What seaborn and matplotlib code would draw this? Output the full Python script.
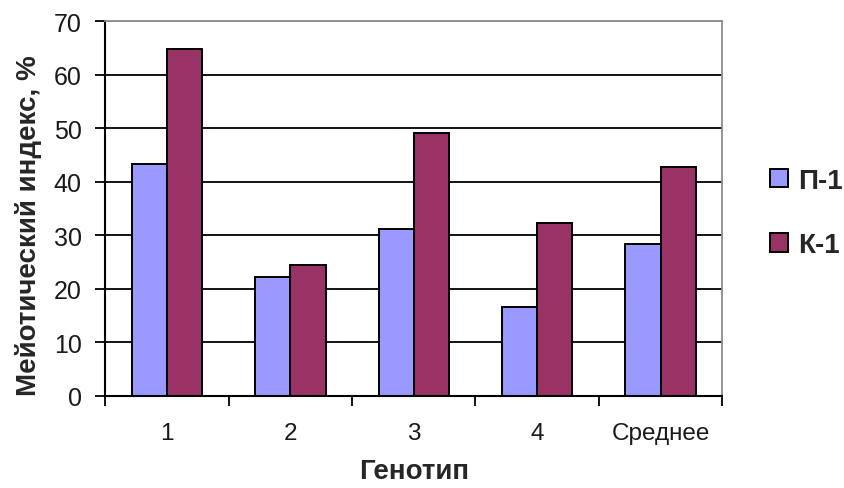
import matplotlib
matplotlib.use("Agg")
import matplotlib.pyplot as plt
import seaborn as sns
import pandas as pd
import numpy as np

categories = ["1", "2", "3", "4", "Среднее"]
series_names = ["П-1", "К-1"]
p1_values = [43.4, 22.1, 31.2, 16.5, 28.3]
k1_values = [64.8, 24.4, 49.1, 32.3, 42.7]
y_ticks = [0, 10, 20, 30, 40, 50, 60, 70]

colors = {"П-1": "#9999FF", "К-1": "#993366"}

df = pd.DataFrame({
    "Генотип": categories * 2,
    "value": p1_values + k1_values,
    "series": [series_names[0]] * len(categories) + [series_names[1]] * len(categories),
})

sns.set_style("white")
plt.rcParams["font.family"] = ["Liberation Sans", "DejaVu Sans"]

fig = plt.figure(figsize=(8.45, 4.89), dpi=100)
ax = fig.add_axes([0.1246, 0.1888, 0.8548 - 0.1246, 0.9544 - 0.1888])

# horizontal gridlines behind the bars
for v in y_ticks[1:-1]:
    ax.axhline(v, color="black", lw=1.3, zorder=0)
ax.axhline(70, color="#8c8c8c", lw=1.3, zorder=0)

sns.barplot(data=df, x="Генотип", y="value", hue="series", order=categories,
            hue_order=series_names, palette=colors, width=2 / 3.5, gap=0,
            edgecolor="black", linewidth=1.4, saturation=1, ax=ax, zorder=2)

ax.set_xlim(-0.5, len(categories) - 0.5)
ax.set_ylim(0, 70)
ax.set_yticks(y_ticks)
ax.set_yticklabels([str(v) for v in y_ticks], fontsize=18, color="#1a1a1a")
ax.tick_params(axis="y", direction="out", length=7, width=1.3, color="black", pad=10, left=True)

# category labels at centres, tick marks at category boundaries
ax.set_xticks(range(len(categories)))
ax.set_xticklabels(categories, fontsize=17.5, color="#1a1a1a")
ax.tick_params(axis="x", which="major", length=0, pad=19)
ax.set_xticks(np.arange(-0.5, len(categories)), minor=True)
ax.tick_params(axis="x", which="minor", direction="out", length=7, width=1.3, color="black", bottom=True)

for side in ["left", "bottom"]:
    ax.spines[side].set_color("black")
    ax.spines[side].set_linewidth(1.5)
for side in ["top", "right"]:
    ax.spines[side].set_visible(True)
    ax.spines[side].set_color("#8c8c8c")
    ax.spines[side].set_linewidth(1.3)

ax.set_xlabel("Генотип", fontsize=20, fontweight="bold", labelpad=10)
ax.set_ylabel("Мейотический индекс, %", fontsize=20, fontweight="bold")
ax.yaxis.set_label_coords(-0.103, 0.456)

leg = ax.legend(loc="center left", bbox_to_anchor=(1.077, 0.488), frameon=False,
                prop={"weight": "bold", "size": 20}, handlelength=0.65, handleheight=0.65,
                handletextpad=0.36, labelspacing=1.39, borderpad=0, borderaxespad=0)
for h in leg.legend_handles:
    h.set_edgecolor("black")
    h.set_linewidth(1.4)

fig.savefig("out.png", dpi=100, facecolor="white")
